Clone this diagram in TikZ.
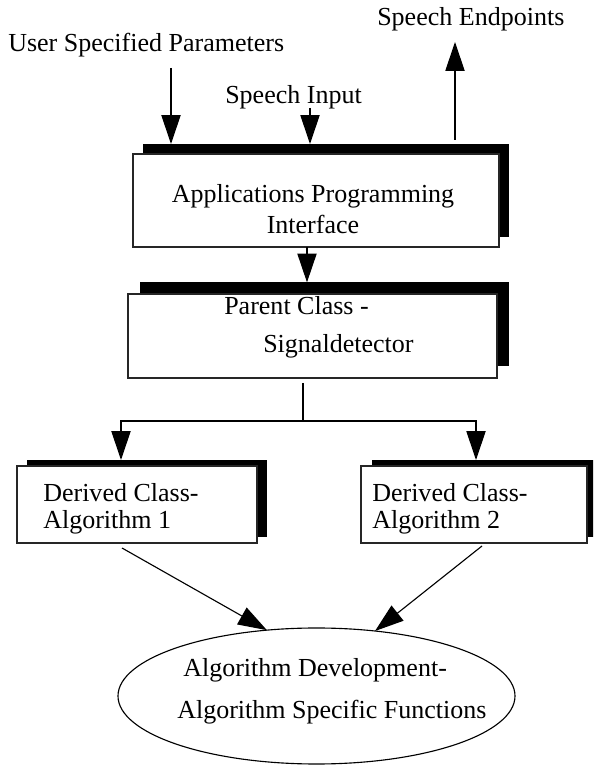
\documentclass[tikz,border=0pt]{standalone}
\usepackage{fontspec}
\setmainfont{Liberation Serif}
\usetikzlibrary{arrows.meta, positioning, shapes.geometric, calc, shadows}

\begin{document}
\begin{tikzpicture}[
  >={Triangle[length=0.72cm, width=0.48cm]},
  every node/.style={font=\fontsize{18.5}{22.5}\selectfont},
  classbox/.style={draw=black!85, fill=white, line width=0.9pt,
                   inner sep=0pt, outer sep=0pt},
  shadowed/.style 2 args={drop shadow={shadow xshift=#1,
                   shadow yshift=#2, fill=black, opacity=1}},
  txt/.style={inner sep=0pt},
  arrow/.style={->, line width=0.8pt}
]
\clip (0,0) rectangle (14.825,19.125);

%% Inputs and outputs of the interface
\node[txt, anchor=west] (usrpar) at (0.2, 18.0) {User Specified Parameters};
\node[txt, anchor=west] (spin)   at (5.625, 16.7)  {Speech Input};
\node[txt, anchor=west] (spend)  at (9.425, 18.65) {Speech Endpoints};

%% Applications programming interface
\node[classbox, shadowed={0.25cm}{0.25cm},
      minimum width=9.15cm, minimum height=2.325cm]
  (api) at (7.9, 14.1125) {};
\node[txt, align=center] (apitxt) at (7.825, 13.9)
  {Applications Programming\\Interface};

%% Parent class
\node[classbox, shadowed={0.3cm}{0.29cm},
      minimum width=9.225cm, minimum height=2.1cm]
  (parent) at (7.8125, 10.725) {};
\node[txt, align=left, anchor=west] (parenttxt) at (5.6, 10.95)
  {Parent Class -\\[4.5pt]\hspace*{0.975cm}Signaldetector};

%% Derived classes
\node[classbox, shadowed={0.24cm}{0.16cm},
      minimum width=6.0cm, minimum height=1.925cm]
  (derivA) at (3.425, 6.5125) {};
\node[txt, align=left, anchor=west] (derivAtxt) at (1.075, 6.4125)
  {Derived Class-\\[-3.3pt]Algorithm 1};

\node[classbox, shadowed={0.27cm}{0.16cm},
      minimum width=5.65cm, minimum height=1.925cm]
  (derivB) at (11.85, 6.5125) {};
\node[txt, align=left, anchor=west] (derivBtxt) at (9.3, 6.4125)
  {Derived Class-\\[-3.3pt]Algorithm 2};

%% Algorithm functions
\node[draw, ellipse, line width=0.8pt, inner sep=0pt, outer sep=0pt,
      minimum width=9.925cm, minimum height=3.4cm]
  (alg) at (7.9125, 1.725) {};
\node[txt, align=left, anchor=west] (algtxt) at (4.425, 1.85)
  {\hspace*{0.15cm}Algorithm Development-\\[7.4pt]Algorithm Specific Functions};

%% Connectors
\coordinate (apiTop) at ($(api.north)+(0,0.25)$);
\coordinate (parTop) at ($(parent.north)+(0,0.29)$);
\coordinate (usrIn)  at (4.275, 17.425);
\coordinate (spIn)   at (7.75, 16.425);
\coordinate (spOut)  at (11.375, 18.075);
\coordinate (apiOut) at ($(api.south)+(-0.225,0)$);
\coordinate (fork)   at ($(parent.south)+(-0.2375,-0.125)$);
\coordinate (split)  at ($(fork)+(0,-0.95)$);

\draw[arrow] (usrIn) -- (usrIn |- apiTop);
\draw[arrow] (spIn) -- (spIn |- apiTop);
\draw[arrow] ($(spOut |- apiTop)+(0,0.1)$) -- (spOut);
\draw[arrow] (apiOut) -- (apiOut |- parTop);

\draw[line width=0.8pt] (fork) -- (split);
\draw[arrow] (split) -| ($(derivA.north)+(-0.4,0.15)$);
\draw[arrow] (split) -| ($(derivB.north)+(0.05,0.15)$);

\draw[arrow] ($(derivA.south)+(-0.375,-0.125)$) -- (alg.127);
\draw[arrow] ($(derivB.south)+(0.2,-0.075)$) -- (alg.48);

\end{tikzpicture}
\end{document}
